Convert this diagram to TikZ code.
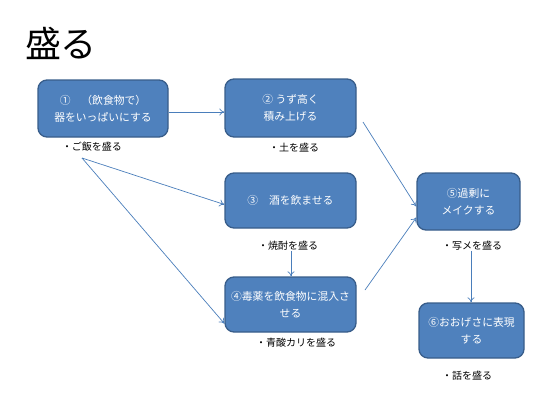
\documentclass[tikz,border=0pt]{standalone}
\usepackage{fontspec}
\setmainfont{Noto Sans CJK JP}
\usetikzlibrary{arrows.meta}
\definecolor{boxfill}{HTML}{4F81BD}
\definecolor{boxline}{HTML}{385D8A}
\definecolor{arrowc}{HTML}{4A7EBB}
\begin{document}
\begin{tikzpicture}[x=1pt,y=-1pt,
  box/.style={draw=boxline, line width=1.3pt, fill=boxfill, rounded corners=9pt,
    text=white, font=\fontsize{10.8}{17}\selectfont, align=center, inner sep=0pt},
  lbl/.style={font=\fontsize{10}{12}\selectfont, inner sep=0pt},
  conn/.style={draw=arrowc, line width=0.7pt, -{To[length=5pt,width=7pt]}}]
\useasboundingbox (0,0) rectangle (550,400);
\node[font=\fontsize{36}{38}\selectfont, inner sep=0pt] (title) at (61,43) {盛る};
\node[box, minimum width=130pt, minimum height=57pt] (b1) at (103,108.5) {①　（飲食物で）\\器をいっぱいにする};
\node[box, minimum width=131pt, minimum height=58pt] (b2) at (290.5,108) {② うず高く\\積み上げる};
\node[box, minimum width=131pt, minimum height=55pt] (b3) at (290.5,200.5) {③　酒を飲ませる};
\node[box, minimum width=131pt, minimum height=55pt] (b4) at (290.5,304.5) {④毒薬を飲食物に混入さ\\せる};
\node[box, minimum width=103pt, minimum height=57pt] (b5) at (468.5,201.5) {⑤過剰に\\メイクする};
\node[box, minimum width=105pt, minimum height=55pt] (b6) at (471.5,330.5) {⑥おおげさに表現\\する};
\node[lbl] (l1) at (92,147) {・ご飯を盛る};
\node[lbl] (l2) at (294,148) {・土を盛る};
\node[lbl] (l3) at (288,246) {・焼酎を盛る};
\node[lbl] (l4) at (296,343) {・青酸カリを盛る};
\node[lbl] (l5) at (472,246) {・写メを盛る};
\node[lbl] (l6) at (467,376) {・話を盛る};
\coordinate (s1) at (82,158);
\coordinate (e2) at (363,122);
\coordinate (e4) at (365,290);
\draw[conn] ([yshift=-3.5pt]b1.east) -- ([yshift=-4pt]b2.west);
\draw[conn] (s1) -- ([yshift=-4pt]b3.west);
\draw[conn] (s1) -- ([yshift=-19pt]b4.west);
\draw[conn] (l3.south -| 291,0) -- (b4.north -| 291,0);
\draw[conn] (e2) -- ([yshift=-5pt]b5.west);
\draw[conn] (e4) -- ([yshift=-16pt]b5.west);
\draw[conn] (l5.south -| 471,0) -- (b6.north -| 471,0);
\end{tikzpicture}
\end{document}
